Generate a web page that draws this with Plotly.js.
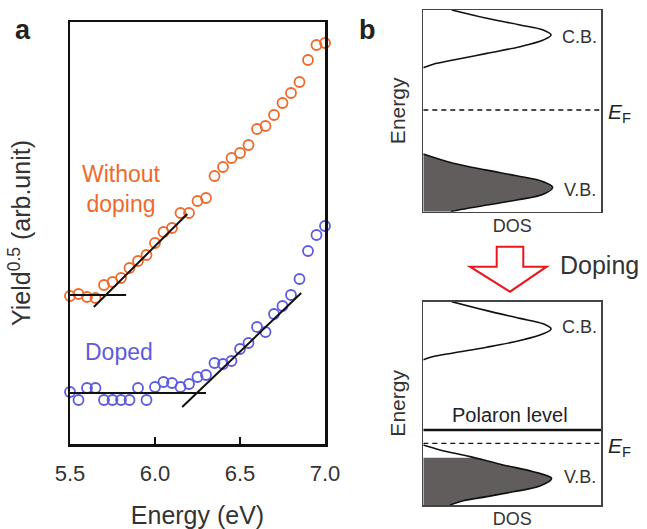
<!DOCTYPE html>
<html>
<head>
<meta charset="utf-8">
<script src="https://cdn.plot.ly/plotly-3.0.1.min.js"></script>
<style>html,body{margin:0;padding:0;background:#fff;}#chart{width:647px;height:529px;}</style>
</head>
<body>
<div id="chart"></div>
<script>
// ---- Panel a data ----
const energyEV = [5.50,5.55,5.60,5.65,5.70,5.75,5.80,5.85,5.90,5.95,6.00,6.05,6.10,6.15,6.20,6.25,6.30,6.35,6.40,6.45,6.50,6.55,6.60,6.65,6.70,6.75,6.80,6.85,6.90,6.95,7.00];
const yieldUndoped = [1.48,1.50,1.47,1.46,1.59,1.62,1.66,1.76,1.83,1.89,2.01,2.12,2.16,2.31,2.31,2.43,2.46,2.68,2.77,2.86,2.91,2.99,3.15,3.18,3.29,3.41,3.51,3.62,3.84,3.99,4.01];
const yieldDoped = [0.52,0.44,0.56,0.56,0.44,0.44,0.44,0.44,0.56,0.44,0.57,0.62,0.61,0.57,0.60,0.67,0.69,0.81,0.80,0.83,0.95,1.01,1.17,1.12,1.30,1.38,1.49,1.65,1.93,2.09,2.18];
// fitted guide lines (endpoints)
const undopedBaseX = [5.47, 5.83];  const undopedBaseY = [1.49, 1.49];
const undopedSlopeX = [5.64, 6.19]; const undopedSlopeY = [1.37, 2.30];
const dopedBaseX = [5.47, 6.30];    const dopedBaseY = [0.51, 0.51];
const dopedSlopeX = [6.16, 6.86];   const dopedSlopeY = [0.37, 1.51];

// ---- Panel b schematic DOS curves (DOS 0..1, energy 0..10 per box) ----
const cbTopDOS = [0.16,0.357,0.544,0.675,0.719,0.675,0.544,0.357,0.169,0.056,0.0];
const cbTopE   = [10.0,9.59,9.26,9.01,8.76,8.51,8.18,7.85,7.52,7.31,7.14];
const vbTopDOS = [0.0,0.169,0.357,0.526,0.675,0.728,0.675,0.526,0.357,0.169,0.155];
const vbTopE   = [2.86,2.40,2.06,1.78,1.49,1.21,0.86,0.58,0.33,0.03,0.0];
const efTop = 5.04;

const cbBotDOS = [0.16,0.357,0.544,0.675,0.719,0.675,0.544,0.357,0.169,0.056,0.0];
const cbBotE   = [10.0,9.56,9.18,8.91,8.66,8.42,8.09,7.76,7.48,7.30,7.15];
const vbBotDOS = [0.0,0.094,0.263,0.45,0.619,0.722,0.656,0.506,0.357,0.225,0.15];
const vbBotE   = [2.95,2.71,2.38,1.97,1.64,1.31,0.93,0.65,0.41,0.21,0.0];
const vbBotFillDOS = [0.274,0.45,0.619,0.722,0.656,0.506,0.357,0.225,0.15];
const vbBotFillE   = [2.33,1.97,1.64,1.31,0.93,0.65,0.41,0.21,0.0];
const efBot = 3.03;
const polaronE = 3.69;
const fullDOS = [0, 1];

const orange = '#EE6A2C', blue = '#5C5CE0', gray = '#625d5d';
const FONT = 'Liberation Sans, Arial, sans-serif';

const traces = [
  {x: energyEV, y: yieldUndoped, xaxis:'x', yaxis:'y', mode:'markers', cliponaxis:false,
   marker:{symbol:'circle-open', size:10, color:orange, line:{width:1.8, color:orange}}},
  {x: energyEV, y: yieldDoped, xaxis:'x', yaxis:'y', mode:'markers', cliponaxis:false,
   marker:{symbol:'circle-open', size:10, color:blue, line:{width:1.8, color:blue}}},
  {x: undopedBaseX, y: undopedBaseY, mode:'lines', cliponaxis:false, line:{color:'#111', width:2}},
  {x: undopedSlopeX, y: undopedSlopeY, mode:'lines', line:{color:'#111', width:2}},
  {x: dopedBaseX, y: dopedBaseY, mode:'lines', cliponaxis:false, line:{color:'#111', width:2}},
  {x: dopedSlopeX, y: dopedSlopeY, mode:'lines', line:{color:'#111', width:2}},

  // top panel b
  {x: cbTopDOS, y: cbTopE, xaxis:'x2', yaxis:'y2', mode:'lines', line:{color:'#111', width:1.6, shape:'spline'}},
  {x: vbTopDOS, y: vbTopE, xaxis:'x2', yaxis:'y2', mode:'lines', fill:'tozerox', fillcolor:gray,
   line:{color:'#111', width:1.6, shape:'spline'}},
  {x: fullDOS, y: [efTop, efTop], xaxis:'x2', yaxis:'y2', mode:'lines', line:{color:'#111', width:1.4, dash:'5px,4px'}},

  // bottom panel b
  {x: vbBotFillDOS, y: vbBotFillE, xaxis:'x3', yaxis:'y3', mode:'lines', fill:'tozerox', fillcolor:gray,
   line:{color:'rgba(0,0,0,0)', width:0, shape:'spline'}},
  {x: cbBotDOS, y: cbBotE, xaxis:'x3', yaxis:'y3', mode:'lines', line:{color:'#111', width:1.6, shape:'spline'}},
  {x: vbBotDOS, y: vbBotE, xaxis:'x3', yaxis:'y3', mode:'lines', line:{color:'#111', width:1.6, shape:'spline'}},
  {x: fullDOS, y: [efBot, efBot], xaxis:'x3', yaxis:'y3', mode:'lines', line:{color:'#111', width:1.4, dash:'5px,4px'}},
  {x: fullDOS, y: [polaronE, polaronE], xaxis:'x3', yaxis:'y3', mode:'lines', line:{color:'#111', width:2.6}}
];

const W = 647, H = 529;
const px = v => v / W, py = v => 1 - v / H;

const bAxisX = {range:[0,1], showline:true, mirror:true, linecolor:'#444', linewidth:1.5,
  ticks:'', showticklabels:false, showgrid:false, zeroline:false, fixedrange:true};
const bAxisY = {range:[0,10], showline:true, mirror:true, linecolor:'#444', linewidth:1.5,
  ticks:'', showticklabels:false, showgrid:false, zeroline:false, fixedrange:true};

const layout = {
  width: W, height: H,
  margin:{l:0, r:0, t:0, b:0},
  paper_bgcolor:'#fff', plot_bgcolor:'#fff',
  showlegend:false,
  font:{family:FONT, color:'#333'},
  xaxis:{domain:[px(70), px(325)], anchor:'y', range:[5.5, 7.0],
    tickvals:[5.5, 6.0, 6.5, 7.0], ticktext:['5.5','6.0','6.5','7.0'],
    ticks:'inside', ticklen:7, tickwidth:2, tickcolor:'#111', ticklabelstandoff:8,
    tickfont:{size:22, color:'#333', family:FONT},
    showline:true, mirror:true, linecolor:'#111', linewidth:2.5,
    showgrid:false, zeroline:false,
    title:{text:'Energy (eV)', font:{size:25, color:'#333', family:FONT}, standoff:23}},
  yaxis:{domain:[py(444), py(22)], anchor:'x', range:[0, 4.22],
    ticks:'', showticklabels:false,
    showline:true, mirror:true, linecolor:'#111', linewidth:2.5,
    showgrid:false, zeroline:false,
    title:{text:'Yield<sup>0.5</sup> (arb.unit)', font:{size:25, color:'#333', family:FONT}, standoff:30}},
  xaxis2:Object.assign({}, bAxisX, {domain:[px(423.3), px(601)], anchor:'y2',
    title:{text:'DOS', font:{size:18, color:'#333', family:FONT}, standoff:7}}),
  yaxis2:Object.assign({}, bAxisY, {domain:[py(211.7), py(10)], anchor:'x2',
    title:{text:'Energy', font:{size:21, color:'#333', family:FONT}, standoff:10}}),
  xaxis3:Object.assign({}, bAxisX, {domain:[px(423.3), px(601)], anchor:'y3',
    title:{text:'DOS', font:{size:18, color:'#333', family:FONT}, standoff:11}}),
  yaxis3:Object.assign({}, bAxisY, {domain:[py(505), py(301.7)], anchor:'x3',
    title:{text:'Energy', font:{size:21, color:'#333', family:FONT}, standoff:10}}),
  shapes:[
    {type:'path', xref:'paper', yref:'paper', layer:'above',
     path:`M ${px(496.7)} ${py(246.7)} L ${px(523.3)} ${py(246.7)} L ${px(523.3)} ${py(266.7)} L ${px(546.7)} ${py(266.7)} L ${px(510)} ${py(291.7)} L ${px(470)} ${py(266.7)} L ${px(496.7)} ${py(266.7)} Z`,
     line:{color:'#E8191E', width:2}, fillcolor:'#fff'}
  ],
  annotations:[
    {text:'<b>a</b>', xref:'paper', yref:'paper', x:px(23), y:py(30), xanchor:'center', yanchor:'middle', showarrow:false,
     font:{size:27, color:'#222', family:FONT}},
    {text:'<b>b</b>', xref:'paper', yref:'paper', x:px(367), y:py(30), xanchor:'center', yanchor:'middle', showarrow:false,
     font:{size:27, color:'#222', family:FONT}},
    {text:'Without<br>doping', xref:'x', yref:'y', x:5.80, y:2.55, showarrow:false, align:'center',
     font:{size:23, color:orange, family:FONT}},
    {text:'Doped', xref:'x', yref:'y', x:5.79, y:0.92, showarrow:false,
     font:{size:23, color:blue, family:FONT}},
    {text:'C.B.', xref:'x2', yref:'y2', x:0.88, y:8.66, showarrow:false, font:{size:18, color:'#333', family:FONT}},
    {text:'V.B.', xref:'x2', yref:'y2', x:0.88, y:1.07, showarrow:false, font:{size:18, color:'#333', family:FONT}},
    {text:'<i>E</i><sub>F</sub>', xref:'paper', yref:'paper', x:px(606), y:py(113), xanchor:'left', yanchor:'middle', showarrow:false,
     font:{size:21, color:'#222', family:FONT}},
    {text:'C.B.', xref:'x3', yref:'y3', x:0.88, y:8.75, showarrow:false, font:{size:18, color:'#333', family:FONT}},
    {text:'V.B.', xref:'x3', yref:'y3', x:0.88, y:1.38, showarrow:false, font:{size:18, color:'#333', family:FONT}},
    {text:'<i>E</i><sub>F</sub>', xref:'paper', yref:'paper', x:px(606), y:py(447), xanchor:'left', yanchor:'middle', showarrow:false,
     font:{size:21, color:'#222', family:FONT}},
    {text:'Polaron level', xref:'x3', yref:'y3', x:0.49, y:4.43, showarrow:false,
     font:{size:20, color:'#222', family:FONT}},
    {text:'Doping', xref:'paper', yref:'paper', x:px(558), y:py(265), xanchor:'left', yanchor:'middle', showarrow:false,
     font:{size:25, color:'#333', family:FONT}}
  ]
};

Plotly.newPlot('chart', traces, layout, {displayModeBar:false, staticPlot:true});
</script>
</body>
</html>
